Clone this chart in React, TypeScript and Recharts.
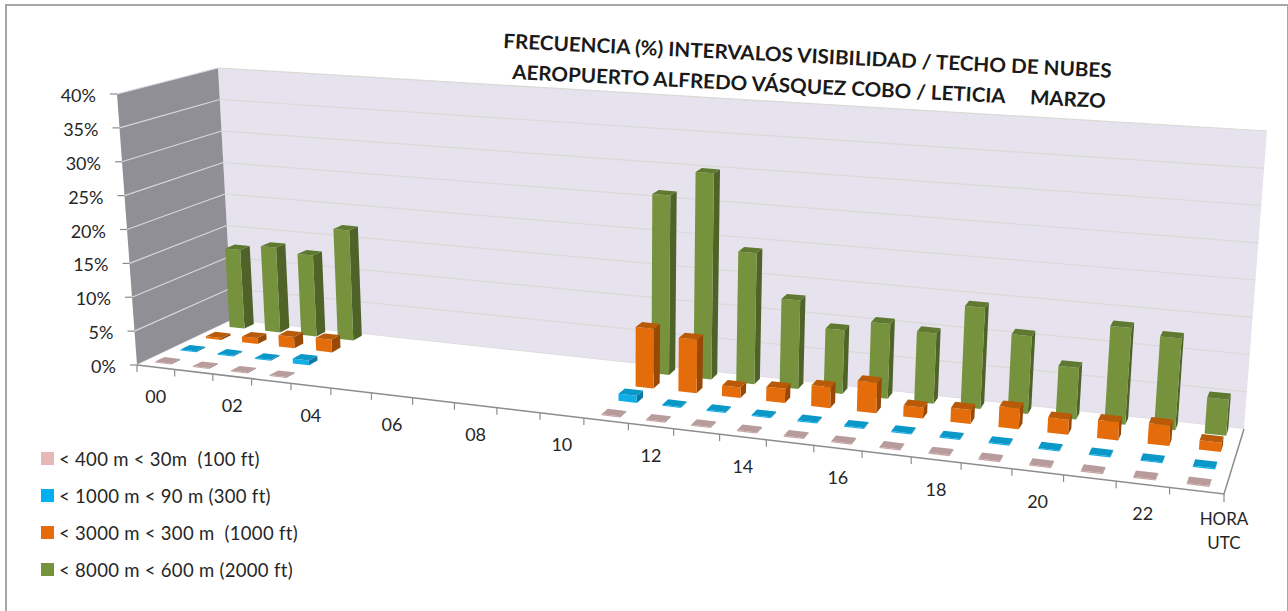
import { Bar, BarChart, Customized, Legend, XAxis, YAxis } from "recharts";

const hours = ["00", "01", "02", "03", "04", "05", "06", "07", "08", "09", "10", "11", "12", "13", "14", "15", "16", "17", "18", "19", "20", "21", "22", "23"];
const hourLabels: Record<string, string[]> = {
  "00": ["00"], "02": ["02"], "04": ["04"], "06": ["06"], "08": ["08"], "10": ["10"],
  "12": ["12"], "14": ["14"], "16": ["16"], "18": ["18"], "20": ["20"], "22": ["22"],
  "23": ["HORA", "UTC"],
};
const yTicks = [0, 5, 10, 15, 20, 25, 30, 35, 40];

const pinkValues = [0.15, 0.15, 0.15, 0.15, null, null, null, null, null, null, null, 0.15, 0.15, 0.15, 0.15, 0.15, 0.15, 0.15, 0.15, 0.15, 0.15, 0.15, 0.15, 0.15];
const blueValues = [0.15, 0.15, 0.15, 0.7, null, null, null, null, null, null, null, 1, 0.15, 0.15, 0.15, 0.15, 0.15, 0.15, 0.15, 0.15, 0.15, 0.15, 0.15, 0.15];
const orangeValues = [0.3, 0.9, 1.7, 1.9, null, null, null, null, null, null, null, 8.5, 7.6, 1.5, 2, 2.9, 4.2, 1.5, 1.9, 2.8, 2, 2.4, 2.7, 1.2];
const greenValues = [12.3, 13.2, 12.5, 16.9, null, null, null, null, null, null, null, 26.1, 29.8, 18.8, 12.6, 9, 10.5, 9.8, 14, 10.7, 7, 13.1, 12.3, 4.8];

const data = hours.map((hour, i) => ({
  hour,
  pink: pinkValues[i],
  blue: blueValues[i],
  orange: orangeValues[i],
  green: greenValues[i],
}));

const legendRows = [
  { label: "< 400 m < 30m  (100 ft)", color: "#e6b8b7" },
  { label: "< 1000 m < 90 m (300 ft)", color: "#00b0f0" },
  { label: "< 3000 m < 300 m  (1000 ft)", color: "#e46c0a" },
  { label: "< 8000 m < 600 m (2000 ft)", color: "#76923c" },
];

const W = 1288;
const H = 611;
// axes are 1px wide, so the plot area starts at 50 on every side
const MARGIN = { top: 50, right: 50, bottom: 49, left: 49 };
const PW = W - 100;
const PH = H - 100;
const BAND = PW / hours.length;
const BAR = BAND * 0.42;
const FONT = "Lato, 'Open Sans', sans-serif";
const TEXT = "#262626";

type Pt = [number, number];
// corners: front-left, front-right, back-right, back-left
const FLOOR: Pt[] = [[137, 365], [1224, 494], [1244, 429], [232, 320]];
const ROOF: Pt[] = [[117, 94], [1248, 172], [1267, 131], [218, 68]];

const warp = (u: number) => (u * 0.825) / (1 - 0.175 * u);
const mix = (a: Pt, b: Pt, t: number): Pt => [a[0] + (b[0] - a[0]) * t, a[1] + (b[1] - a[1]) * t];
const onQuad = (q: Pt[], t: number, d: number) => mix(mix(q[0], q[1], t), mix(q[3], q[2], t), d);

// u along the hours, d into the depth, h up the value axis, all 0..1
function project(u: number, d: number, h: number): Pt {
  const t = warp(u);
  return mix(onQuad(FLOOR, t, d), onQuad(ROOF, t, d), h);
}

const pts = (list: Pt[]) => list.map((p) => `${p[0].toFixed(1)},${p[1].toFixed(1)}`).join(" ");

function makeBox(depth: number, front: string, side: string, top: string) {
  return function Box({ x, y, width, height }: any) {
    if (!(height > 0) || y == null) return <g />;
    const u0 = (x - 50) / PW;
    const u1 = (x + width - 50) / PW;
    const h = height / PH;
    const d0 = depth - 0.05;
    const d1 = depth + 0.05;
    return (
      <g>
        <polygon fill={side} points={pts([project(u1, d0, 0), project(u1, d1, 0), project(u1, d1, h), project(u1, d0, h)])} />
        <polygon fill={front} points={pts([project(u0, d0, 0), project(u1, d0, 0), project(u1, d0, h), project(u0, d0, h)])} />
        <polygon fill={top} points={pts([project(u0, d0, h), project(u1, d0, h), project(u1, d1, h), project(u0, d1, h)])} />
      </g>
    );
  };
}

function Scene() {
  return (
    <g>
      <polygon fill="#e6e3ee" points={pts([project(0, 1, 0), project(1, 1, 0), project(1, 1, 1), project(0, 1, 1)])} />
      <polygon fill="#918f96" points={pts([project(0, 0, 0), project(0, 1, 0), project(0, 1, 1), project(0, 0, 1)])} />
      {yTicks.map((v) => (
        <g key={v} fill="none" strokeWidth={1.2}>
          <polyline stroke="#d8d7dc" points={pts([project(0, 0, v / 40), project(0, 1, v / 40)])} />
          <polyline stroke="#d9d9d6" points={pts([project(0, 1, v / 40), project(1, 1, v / 40)])} />
        </g>
      ))}
      <polygon fill="#ffffff" points={pts([project(0, 0, 0), project(1, 0, 0), project(1, 1, 0), project(0, 1, 0)])} />
      <polyline fill="none" stroke="#8c8c8c" strokeWidth={1.5} points={pts([project(0, 0, 0), project(1, 0, 0), project(1, 1, 0)])} />
      <g fontFamily={FONT} fontWeight={700} fontSize={20} fill="#1a1a1a">
        <text transform="translate(503 48) rotate(2.8)" textLength={609} lengthAdjust="spacingAndGlyphs">
          FRECUENCIA (%) INTERVALOS VISIBILIDAD / TECHO DE NUBES
        </text>
        <text transform="translate(512 79) rotate(2.8)" textLength={594} lengthAdjust="spacingAndGlyphs">
          {"AEROPUERTO ALFREDO VÁSQUEZ COBO / LETICIA\u00a0\u00a0\u00a0\u00a0\u00a0MARZO"}
        </text>
      </g>
    </g>
  );
}

function HourTick({ x, payload, index }: any) {
  const u = (x - 50) / PW;
  const tick = project(u - 0.5 / hours.length, 0, 0);
  const lines = hourLabels[payload.value];
  const c = project(u, 0, 0);
  const end = project(1, 0, 0);
  return (
    <g>
      <line x1={tick[0]} y1={tick[1]} x2={tick[0]} y2={tick[1] + 7} stroke="#8c8c8c" strokeWidth={1.2} />
      {index === hours.length - 1 && (
        <line x1={end[0]} y1={end[1]} x2={end[0]} y2={end[1] + 8} stroke="#8c8c8c" strokeWidth={1.2} />
      )}
      {lines && lines.length === 1 && (
        <text x={c[0]} y={c[1] + 36} textAnchor="middle" fontFamily={FONT} fontSize={18} fill={TEXT}>
          {lines[0]}
        </text>
      )}
      {lines && lines.length === 2 &&
        lines.map((l, i) => (
          <text key={l} x={end[0]} y={end[1] + 31 + i * 24} textAnchor="middle" fontFamily={FONT} fontSize={17} fill={TEXT}>
            {l}
          </text>
        ))}
    </g>
  );
}

function ValueTick({ y, payload }: any) {
  const p = project(0, 0, (50 + PH - y) / PH);
  return (
    <g>
      <line x1={p[0] - 7} y1={p[1]} x2={p[0]} y2={p[1]} stroke="#8c8c8c" strokeWidth={1.2} />
      <text x={p[0] - 21} y={p[1] + 8} textAnchor="end" fontFamily={FONT} fontSize={18} fill={TEXT}>
        {payload.value}%
      </text>
    </g>
  );
}

function LegendBox() {
  return (
    <div style={{ fontFamily: FONT, fontSize: 18.5, letterSpacing: 0.3, color: TEXT }}>
      {legendRows.map((r) => (
        <div key={r.label} style={{ display: "flex", alignItems: "center", height: 37, whiteSpace: "pre" }}>
          <span style={{ width: 13, height: 13, background: r.color, marginRight: 5 }} />
          {r.label}
        </div>
      ))}
    </div>
  );
}

export default function App() {
  return (
    <div
      style={{
        position: "absolute",
        left: 0,
        top: 0,
        width: W,
        height: H,
        background: "#fff",
        overflow: "hidden",
      }}
    >
      <div
        style={{
          position: "absolute",
          left: 5,
          top: 4,
          width: 1280,
          height: 620,
          border: "2px solid #a6a6a6",
        }}
      />
      <BarChart width={W} height={H} data={data} margin={MARGIN} barSize={BAR} barGap={-BAR} style={{ position: "absolute", left: 0, top: 0 }}>
        <Customized component={Scene} />
        <XAxis dataKey="hour" interval={0} height={1} axisLine={false} tickLine={false} tick={<HourTick />} />
        <YAxis domain={[0, 40]} ticks={yTicks} width={1} axisLine={false} tickLine={false} tick={<ValueTick />} />
        <Legend
          layout="vertical"
          align="center"
          verticalAlign="middle"
          content={<LegendBox />}
          wrapperStyle={{ left: 41, top: 440, width: 300 }}
        />
        <Bar dataKey="green" isAnimationActive={false} shape={makeBox(0.92, "#76923c", "#4f6228", "#5f7a30")} />
        <Bar dataKey="orange" isAnimationActive={false} shape={makeBox(0.67, "#e46c0a", "#984807", "#b85a08")} />
        <Bar dataKey="blue" isAnimationActive={false} shape={makeBox(0.4, "#12aee8", "#0a7aa5", "#0a98c8")} />
        <Bar dataKey="pink" isAnimationActive={false} shape={makeBox(0.13, "#c8a4a4", "#8f7a7a", "#b89c9c")} />
      </BarChart>
    </div>
  );
}
